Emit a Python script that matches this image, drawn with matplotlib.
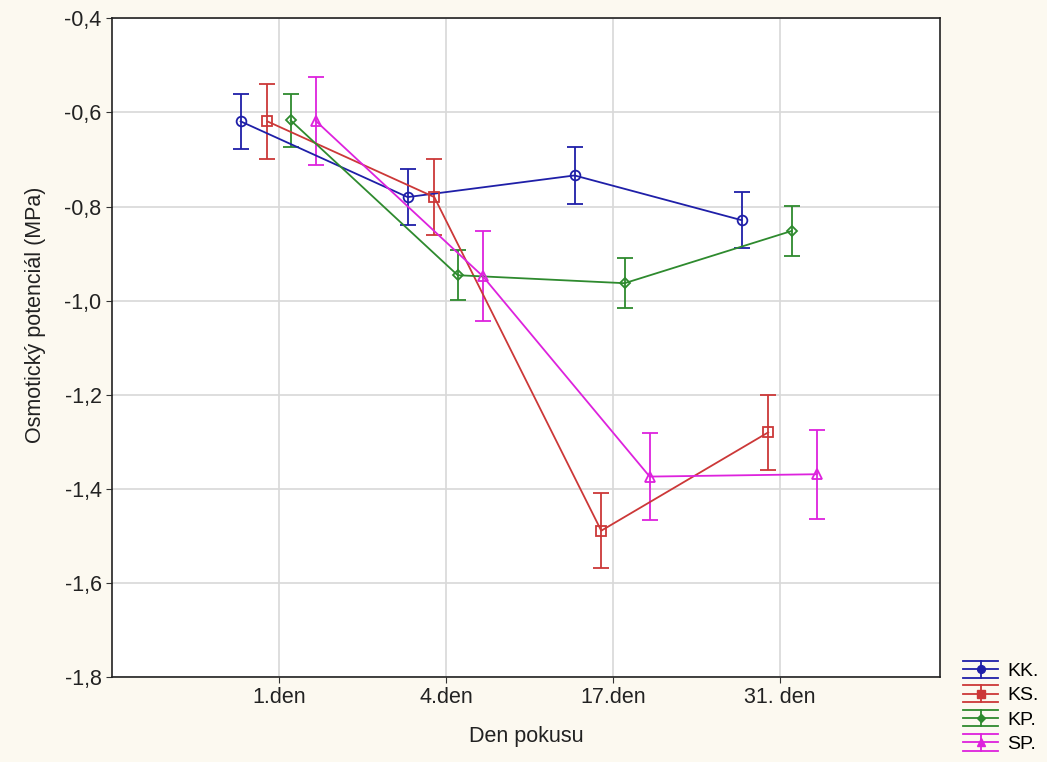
import matplotlib
matplotlib.use("Agg")
import matplotlib.pyplot as plt
from matplotlib.legend_handler import HandlerBase
from matplotlib.lines import Line2D
import numpy as np

plt.rcParams['font.family'] = ['Liberation Sans', 'DejaVu Sans']

categories = ["1.den", "4.den", "17.den", "31. den"]
series_names = ["KK.", "KS.", "KP.", "SP."]
kk_mean = [-0.619, -0.780, -0.734, -0.829]
kk_err = [0.058, 0.060, 0.060, 0.060]
ks_mean = [-0.619, -0.780, -1.489, -1.280]
ks_err = [0.080, 0.080, 0.080, 0.080]
kp_mean = [-0.617, -0.946, -0.963, -0.852]
kp_err = [0.057, 0.053, 0.053, 0.053]
sp_mean = [-0.618, -0.948, -1.374, -1.369]
sp_err = [0.094, 0.095, 0.093, 0.095]
y_ticks = [-1.8, -1.6, -1.4, -1.2, -1.0, -0.8, -0.6, -0.4]

means = [kk_mean, ks_mean, kp_mean, sp_mean]
errs = [kk_err, ks_err, kp_err, sp_err]
colors = ["#1f1fa8", "#cc3838", "#2e8a2e", "#dd22dd"]
markers = ["o", "s", "D", "^"]
msizes = [7, 6.5, 5, 7]
offsets = [-0.23, -0.07, 0.07, 0.22]


class ErrHandler(HandlerBase):
    def __init__(self, color, marker, ms):
        super().__init__()
        self.color = color
        self.marker = marker
        self.ms = ms

    def create_artists(self, legend, orig_handle, xdescent, ydescent,
                       width, height, fontsize, trans):
        cy = height / 2 - ydescent
        d = height * 0.62
        arts = []
        for yy in (cy - d, cy, cy + d):
            arts.append(Line2D([-xdescent, width - xdescent], [yy, yy],
                               color=self.color, lw=1.3, transform=trans))
        xm = width / 2 - xdescent
        arts.append(Line2D([xm, xm], [cy - d, cy + d], color=self.color,
                           lw=1.3, transform=trans))
        arts.append(Line2D([xm], [cy], marker=self.marker, markersize=self.ms,
                           markerfacecolor=self.color, markeredgecolor=self.color,
                           transform=trans, linestyle="none"))
        return arts


fig = plt.figure(figsize=(10.47, 7.62), dpi=100)
fig.patch.set_facecolor("#fcf9f0")
ax = fig.add_axes([0.107, 0.1115, 0.791, 0.8645])
ax.set_facecolor("white")

x = np.arange(1, len(categories) + 1)
handles = []
hmap = {}
for m, e, c, mk, ms, off, name in zip(means, errs, colors, markers, msizes, offsets, series_names):
    ax.errorbar(x + off, m, yerr=e, color=c, marker=mk, markersize=ms,
                markerfacecolor="none", markeredgewidth=1.3, linewidth=1.3,
                elinewidth=1.3, capsize=6, capthick=1.3, label=name)
    h = Line2D([], [], color=c)
    handles.append(h)
    hmap[h] = ErrHandler(c, mk, ms * 0.8)

ax.set_xlim(0, 4.96)
ax.set_ylim(-1.8, -0.4)
ax.set_xticks(x)
ax.set_xticklabels(categories)
ax.set_yticks(y_ticks)
ax.set_yticklabels([f"{v:.1f}".replace(".", ",") for v in y_ticks])
ax.grid(True, color="#d8d8d8", linewidth=1.2)
ax.set_axisbelow(True)
ax.tick_params(labelsize=15.5, length=4, color="#333333", labelcolor="#222222")
ax.tick_params(axis="x", pad=3)
for s in ax.spines.values():
    s.set_color("#222222")
    s.set_linewidth(1.2)
ax.set_xlabel("Den pokusu", fontsize=15.5, labelpad=13, color="#222222")
ax.set_ylabel("Osmotický potenciál (MPa)", fontsize=15.5, color="#222222")
ax.yaxis.set_label_coords(-0.08, 0.55)

leg = fig.legend(handles, series_names, handler_map=hmap,
                 loc="lower right", bbox_to_anchor=(1.0, 0.0), frameon=False,
                 fontsize=14, handlelength=1.8, handletextpad=0.45,
                 labelspacing=0.35, borderaxespad=0.05)

fig.savefig("out.png", dpi=100, facecolor=fig.get_facecolor())
